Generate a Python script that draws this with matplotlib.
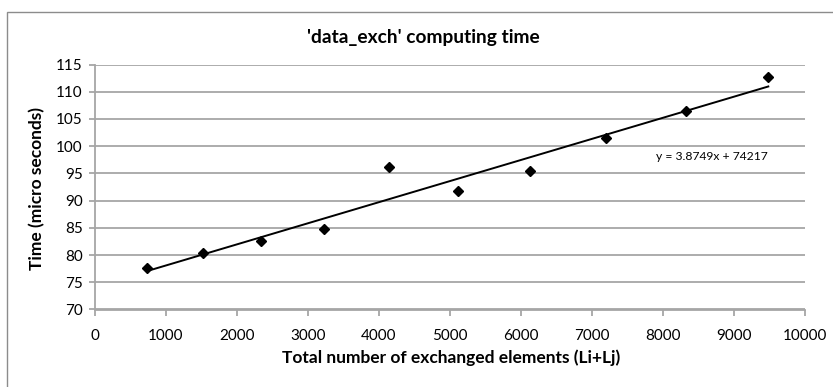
import matplotlib
matplotlib.use("Agg")
import matplotlib.pyplot as plt
from matplotlib.patches import Rectangle
import numpy as np

# Data
elements = [737, 1517, 2338, 3221, 4145, 5117, 6131, 7193, 8320, 9483]
time_us = [77.6, 80.3, 82.6, 84.7, 96.25, 91.8, 95.5, 101.5, 106.4, 112.7]
slope = 3.8749e-3
intercept = 74.217
eq_label = "y = 3.8749x + 74217"
x_ticks = [0, 1000, 2000, 3000, 4000, 5000, 6000, 7000, 8000, 9000, 10000]
y_ticks = [70, 75, 80, 85, 90, 95, 100, 105, 110, 115]

plt.rcParams['font.family'] = ['Lato', 'DejaVu Sans']

W, H = 833, 387
fig = plt.figure(figsize=(W / 100, H / 100), dpi=100)
fig.patch.set_facecolor('white')

# outer chart frame
fig.add_artist(Rectangle((7 / W, -0.05), 1.0, (H - 12) / H + 0.05, transform=fig.transFigure,
                         fill=False, edgecolor='#8c8c8c', linewidth=1.0))

ax = fig.add_axes([95 / W, (H - 309.5) / H, 710 / W, 245 / H])
grid_c = '#a6a6a6'
ax.set_xlim(0, 10000)
ax.set_ylim(70, 115)
ax.set_xticks(x_ticks)
ax.set_yticks(y_ticks)
ax.set_xticklabels([str(t) for t in x_ticks])
ax.set_yticklabels([str(t) for t in y_ticks])
ax.yaxis.grid(True, color=grid_c, linewidth=1.3)
ax.set_axisbelow(True)
for s in ['top', 'right']:
    ax.spines[s].set_visible(False)
for s in ['left', 'bottom']:
    ax.spines[s].set_color(grid_c)
    ax.spines[s].set_linewidth(1.3)
ax.tick_params(axis='both', direction='out', length=4, width=1.3, color=grid_c,
               labelsize=11, labelcolor='black')
ax.tick_params(axis='x', pad=10)
ax.tick_params(axis='y', pad=5)

xs = np.array([min(elements), max(elements)])
ax.plot(xs, slope * xs + intercept, color='black', linewidth=1.4, zorder=3)
ax.plot(elements, time_us, linestyle='none', marker='D', markersize=5.5,
        color='black', zorder=4, clip_on=False)

ax.text(656 / W, (H - 157) / H, eq_label, transform=fig.transFigure,
        fontsize=8.7, va='center', ha='left')

fig.text(423 / W, (H - 38) / H, "'data_exch' computing time", fontsize=13.8,
         fontweight='bold', ha='center', va='center')
fig.text(451 / W, (H - 358) / H, "Total number of exchanged elements (Li+Lj)",
         fontsize=12.5, fontweight='bold', ha='center', va='center')
fig.text(37 / W, (H - 188) / H, "Time (micro seconds)", fontsize=12.5,
         fontweight='bold', ha='center', va='center', rotation=90)

fig.savefig('out.png', dpi=100)
